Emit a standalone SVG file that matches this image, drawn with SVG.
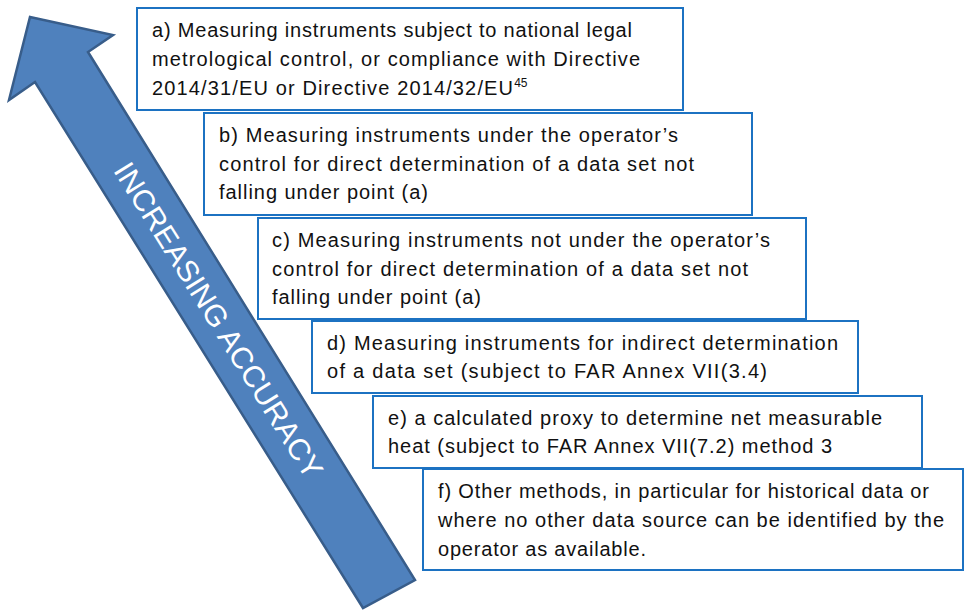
<svg xmlns="http://www.w3.org/2000/svg" width="965" height="610" viewBox="0 0 965 610">
<style>
.box{fill:#fff;stroke:#1C72C2;stroke-width:2}
.t{font-family:"Liberation Sans",Arial,sans-serif;font-size:20px;fill:#111}
.sup{font-size:12px}
.arr{fill:#4F81BD;stroke:#385D8A;stroke-width:2.5;stroke-linejoin:miter}
.at{font-family:"Liberation Sans",Arial,sans-serif;font-size:30px;fill:#fff}
</style>
<rect width="965" height="610" fill="#fff"/>
<g id="arrow">
<polygon class="arr" points="30,17 113,35 88,52 415,580 363,608 35,82 9,100"/>
<text class="at" x="0" y="0" text-anchor="middle" dy="0.36em" textLength="366" lengthAdjust="spacingAndGlyphs" transform="translate(219,320) rotate(58)">INCREASING ACCURACY</text>
</g>
<g id="box-a">
<rect class="box" x="137" y="8" width="546" height="102"/>
<text class="t" x="152" y="37" textLength="480">a) Measuring instruments subject to national legal</text>
<text class="t" x="152" y="66" textLength="488">metrological control, or compliance with Directive</text>
<text class="t" x="152" y="95"><tspan textLength="361">2014/31/EU or Directive 2014/32/EU</tspan><tspan class="sup" dy="-8">45</tspan></text>
</g>
<g id="box-b">
<rect class="box" x="204" y="113" width="548" height="102"/>
<text class="t" x="219" y="142" textLength="459">b) Measuring instruments under the operator’s</text>
<text class="t" x="219" y="171" textLength="475">control for direct determination of a data set not</text>
<text class="t" x="219" y="199" textLength="209">falling under point (a)</text>
</g>
<g id="box-c">
<rect class="box" x="258" y="218" width="548" height="101"/>
<text class="t" x="272" y="247" textLength="498">c) Measuring instruments not under the operator’s</text>
<text class="t" x="272" y="276" textLength="476">control for direct determination of a data set not</text>
<text class="t" x="272" y="304" textLength="209">falling under point (a)</text>
</g>
<g id="box-d">
<rect class="box" x="312" y="321" width="546" height="72"/>
<text class="t" x="327" y="350" textLength="511">d) Measuring instruments for indirect determination</text>
<text class="t" x="327" y="378" textLength="440">of a data set (subject to FAR Annex VII(3.4)</text>
</g>
<g id="box-e">
<rect class="box" x="373" y="396" width="549" height="72"/>
<text class="t" x="388" y="425" textLength="494">e) a calculated proxy to determine net measurable</text>
<text class="t" x="388" y="453" textLength="444">heat (subject to FAR Annex VII(7.2) method 3</text>
</g>
<g id="box-f">
<rect class="box" x="423" y="469" width="540" height="101"/>
<text class="t" x="438" y="498" textLength="491">f) Other methods, in particular for historical data or</text>
<text class="t" x="438" y="527" textLength="506">where no other data source can be identified by the</text>
<text class="t" x="438" y="556" textLength="208">operator as available.</text>
</g>
<g id="connectors"></g>
</svg>
